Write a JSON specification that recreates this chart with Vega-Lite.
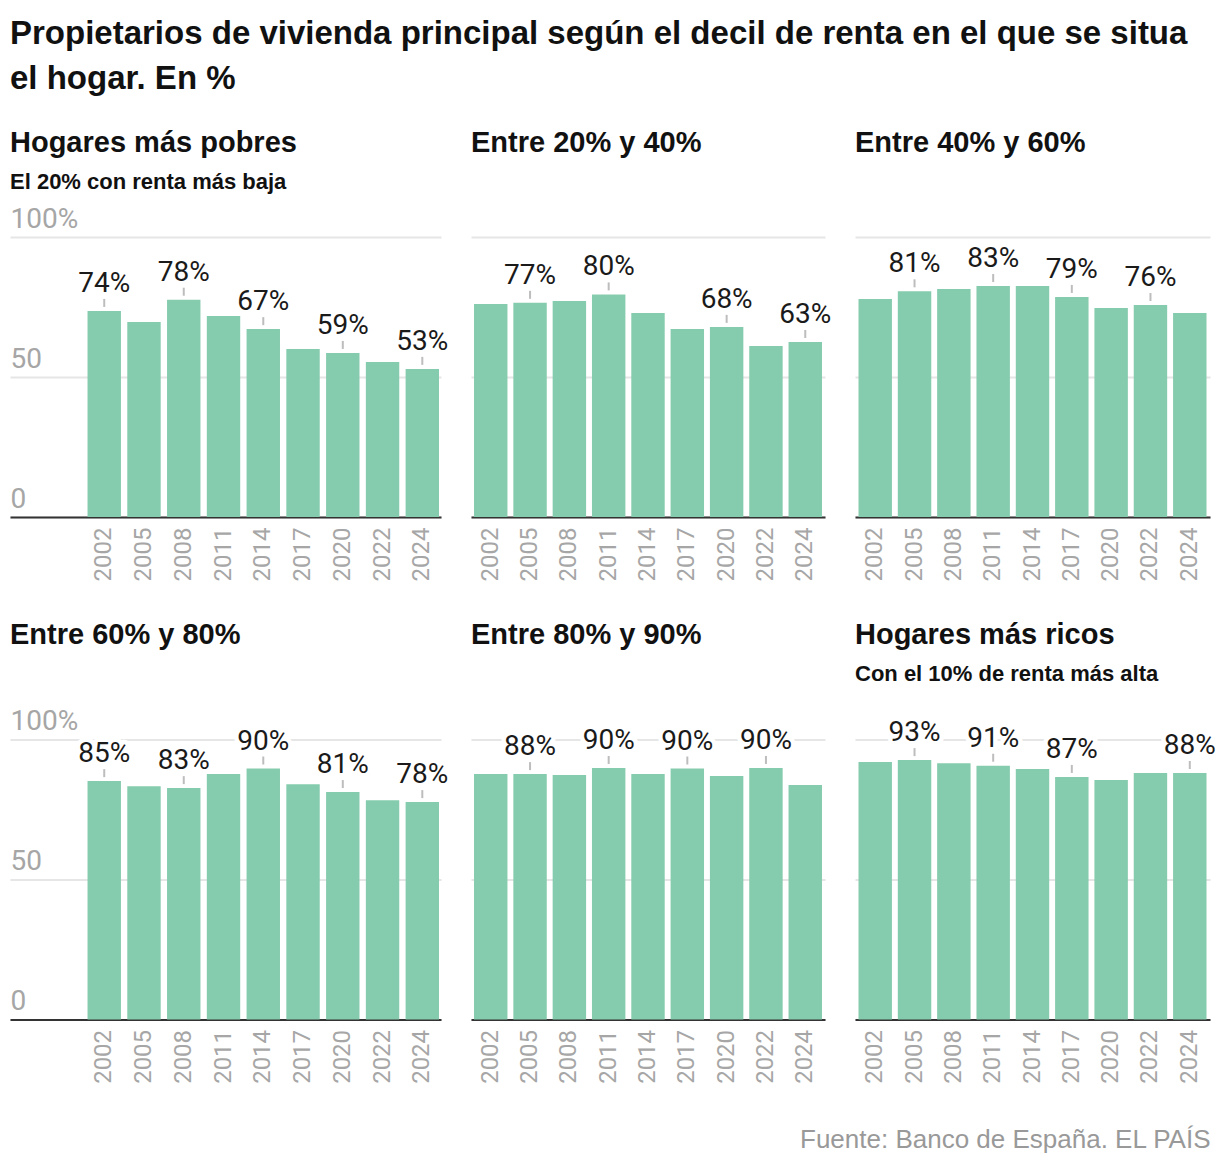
{
  "$schema": "https://vega.github.io/schema/vega-lite/v6.json",
  "background": "white",
  "padding": {"top": 18, "left": 10, "right": 10, "bottom": 10},
  "title": {
    "text": ["Propietarios de vivienda principal según el decil de renta en el que se situa", "el hogar. En %"],
    "fontSize": 33,
    "lineHeight": 45,
    "offset": 33,
    "anchor": "start",
    "frame": "group"
  },
  "data": {
    "values": [
      {"panel": "p1", "anio": "2002", "valor": 73.6, "etiqueta": "74%"},
      {"panel": "p1", "anio": "2005", "valor": 69.6},
      {"panel": "p1", "anio": "2008", "valor": 77.6, "etiqueta": "78%"},
      {"panel": "p1", "anio": "2011", "valor": 71.8},
      {"panel": "p1", "anio": "2014", "valor": 67.1, "etiqueta": "67%"},
      {"panel": "p1", "anio": "2017", "valor": 60.0},
      {"panel": "p1", "anio": "2020", "valor": 58.6, "etiqueta": "59%"},
      {"panel": "p1", "anio": "2022", "valor": 55.4},
      {"panel": "p1", "anio": "2024", "valor": 52.9, "etiqueta": "53%"},
      {"panel": "p2", "anio": "2002", "valor": 76.1},
      {"panel": "p2", "anio": "2005", "valor": 76.5, "etiqueta": "77%"},
      {"panel": "p2", "anio": "2008", "valor": 77.1},
      {"panel": "p2", "anio": "2011", "valor": 79.5, "etiqueta": "80%"},
      {"panel": "p2", "anio": "2014", "valor": 72.9},
      {"panel": "p2", "anio": "2017", "valor": 67.1},
      {"panel": "p2", "anio": "2020", "valor": 67.9, "etiqueta": "68%"},
      {"panel": "p2", "anio": "2022", "valor": 61.1},
      {"panel": "p2", "anio": "2024", "valor": 62.5, "etiqueta": "63%"},
      {"panel": "p3", "anio": "2002", "valor": 77.9},
      {"panel": "p3", "anio": "2005", "valor": 80.6, "etiqueta": "81%"},
      {"panel": "p3", "anio": "2008", "valor": 81.4},
      {"panel": "p3", "anio": "2011", "valor": 82.5, "etiqueta": "83%"},
      {"panel": "p3", "anio": "2014", "valor": 82.5},
      {"panel": "p3", "anio": "2017", "valor": 78.6, "etiqueta": "79%"},
      {"panel": "p3", "anio": "2020", "valor": 74.6},
      {"panel": "p3", "anio": "2022", "valor": 75.7, "etiqueta": "76%"},
      {"panel": "p3", "anio": "2024", "valor": 72.9},
      {"panel": "p4", "anio": "2002", "valor": 85.1, "etiqueta": "85%"},
      {"panel": "p4", "anio": "2005", "valor": 83.3},
      {"panel": "p4", "anio": "2008", "valor": 82.6, "etiqueta": "83%"},
      {"panel": "p4", "anio": "2011", "valor": 87.6},
      {"panel": "p4", "anio": "2014", "valor": 89.6, "etiqueta": "90%"},
      {"panel": "p4", "anio": "2017", "valor": 84.0},
      {"panel": "p4", "anio": "2020", "valor": 81.2, "etiqueta": "81%"},
      {"panel": "p4", "anio": "2022", "valor": 78.3},
      {"panel": "p4", "anio": "2024", "valor": 77.6, "etiqueta": "78%"},
      {"panel": "p5", "anio": "2002", "valor": 87.6},
      {"panel": "p5", "anio": "2005", "valor": 87.6, "etiqueta": "88%"},
      {"panel": "p5", "anio": "2008", "valor": 87.3},
      {"panel": "p5", "anio": "2011", "valor": 89.8, "etiqueta": "90%"},
      {"panel": "p5", "anio": "2014", "valor": 87.6},
      {"panel": "p5", "anio": "2017", "valor": 89.6, "etiqueta": "90%"},
      {"panel": "p5", "anio": "2020", "valor": 86.9},
      {"panel": "p5", "anio": "2022", "valor": 89.8, "etiqueta": "90%"},
      {"panel": "p5", "anio": "2024", "valor": 83.7},
      {"panel": "p6", "anio": "2002", "valor": 91.9},
      {"panel": "p6", "anio": "2005", "valor": 92.6, "etiqueta": "93%"},
      {"panel": "p6", "anio": "2008", "valor": 91.5},
      {"panel": "p6", "anio": "2011", "valor": 90.6, "etiqueta": "91%"},
      {"panel": "p6", "anio": "2014", "valor": 89.4},
      {"panel": "p6", "anio": "2017", "valor": 86.6, "etiqueta": "87%"},
      {"panel": "p6", "anio": "2020", "valor": 85.5},
      {"panel": "p6", "anio": "2022", "valor": 88.0},
      {"panel": "p6", "anio": "2024", "valor": 88.0, "etiqueta": "88%"}
    ]
  },
  "bounds": "flush",
  "columns": 3,
  "spacing": {"row": 222.4, "column": 30},
  "concat": [
    {
      "title": {"text": "Hogares más pobres", "subtitle": "El 20% con renta más baja"},
      "width": 431,
      "height": 280,
      "transform": [{"filter": "datum.panel == 'p1'"}],
      "encoding": {
        "x": {"field": "anio", "type": "nominal", "scale": {"paddingInner": 0.16, "paddingOuter": 1.1, "align": 0.975}},
        "y": {"field": "valor", "type": "quantitative", "scale": {"domain": [0, 100]},
              "axis": {"values": [0, 50, 100], "labelExpr": "datum.value == 100 ? '100%' : datum.label"}}
      },
      "layer": [
        {"mark": {"type": "bar", "color": "#85cbad"}},
        {"transform": [{"filter": "isValid(datum.etiqueta)"}],
         "mark": {"type": "text", "font": "Roboto", "fontSize": 28, "fill": "white", "stroke": "white", "strokeWidth": 9, "strokeJoin": "round", "baseline": "alphabetic", "dy": -19},
         "encoding": {"text": {"field": "etiqueta"}}},
        {"transform": [{"filter": "isValid(datum.etiqueta)"}],
         "mark": {"type": "rule", "color": "#bdbdbd", "strokeWidth": 2, "yOffset": -4, "y2Offset": -12},
         "encoding": {"y2": {"field": "valor"}}},
        {"transform": [{"filter": "isValid(datum.etiqueta)"}],
         "mark": {"type": "text", "font": "Roboto", "fontSize": 28, "color": "#1a1a1a", "baseline": "alphabetic", "dy": -19},
         "encoding": {"text": {"field": "etiqueta"}}}
      ]
    },
    {
      "title": {"text": "Entre 20% y 40%", "subtitle": " "},
      "width": 354,
      "height": 280,
      "transform": [{"filter": "datum.panel == 'p2'"}],
      "encoding": {
        "x": {"field": "anio", "type": "nominal", "scale": {"paddingInner": 0.15, "paddingOuter": 0.077}},
        "y": {"field": "valor", "type": "quantitative", "scale": {"domain": [0, 100]},
              "axis": {"values": [0, 50, 100], "labelExpr": "datum.value == 100 ? '100%' : datum.label", "labelOpacity": 0}}
      },
      "layer": [
        {"mark": {"type": "bar", "color": "#85cbad"}},
        {"transform": [{"filter": "isValid(datum.etiqueta)"}],
         "mark": {"type": "text", "font": "Roboto", "fontSize": 28, "fill": "white", "stroke": "white", "strokeWidth": 9, "strokeJoin": "round", "baseline": "alphabetic", "dy": -19},
         "encoding": {"text": {"field": "etiqueta"}}},
        {"transform": [{"filter": "isValid(datum.etiqueta)"}],
         "mark": {"type": "rule", "color": "#bdbdbd", "strokeWidth": 2, "yOffset": -4, "y2Offset": -12},
         "encoding": {"y2": {"field": "valor"}}},
        {"transform": [{"filter": "isValid(datum.etiqueta)"}],
         "mark": {"type": "text", "font": "Roboto", "fontSize": 28, "color": "#1a1a1a", "baseline": "alphabetic", "dy": -19},
         "encoding": {"text": {"field": "etiqueta"}}}
      ]
    },
    {
      "title": {"text": "Entre 40% y 60%", "subtitle": " "},
      "width": 355,
      "height": 280,
      "transform": [{"filter": "datum.panel == 'p3'"}],
      "encoding": {
        "x": {"field": "anio", "type": "nominal", "scale": {"paddingInner": 0.15, "paddingOuter": 0.089}},
        "y": {"field": "valor", "type": "quantitative", "scale": {"domain": [0, 100]},
              "axis": {"values": [0, 50, 100], "labelExpr": "datum.value == 100 ? '100%' : datum.label", "labelOpacity": 0}}
      },
      "layer": [
        {"mark": {"type": "bar", "color": "#85cbad"}},
        {"transform": [{"filter": "isValid(datum.etiqueta)"}],
         "mark": {"type": "text", "font": "Roboto", "fontSize": 28, "fill": "white", "stroke": "white", "strokeWidth": 9, "strokeJoin": "round", "baseline": "alphabetic", "dy": -19},
         "encoding": {"text": {"field": "etiqueta"}}},
        {"transform": [{"filter": "isValid(datum.etiqueta)"}],
         "mark": {"type": "rule", "color": "#bdbdbd", "strokeWidth": 2, "yOffset": -4, "y2Offset": -12},
         "encoding": {"y2": {"field": "valor"}}},
        {"transform": [{"filter": "isValid(datum.etiqueta)"}],
         "mark": {"type": "text", "font": "Roboto", "fontSize": 28, "color": "#1a1a1a", "baseline": "alphabetic", "dy": -19},
         "encoding": {"text": {"field": "etiqueta"}}}
      ]
    },
    {
      "title": {"text": "Entre 60% y 80%", "subtitle": " ", "offset": 22},
      "width": 431,
      "height": 280,
      "transform": [{"filter": "datum.panel == 'p4'"}],
      "encoding": {
        "x": {"field": "anio", "type": "nominal", "scale": {"paddingInner": 0.16, "paddingOuter": 1.1, "align": 0.975}},
        "y": {"field": "valor", "type": "quantitative", "scale": {"domain": [0, 100]},
              "axis": {"values": [0, 50, 100], "labelExpr": "datum.value == 100 ? '100%' : datum.label"}}
      },
      "layer": [
        {"mark": {"type": "bar", "color": "#85cbad"}},
        {"transform": [{"filter": "isValid(datum.etiqueta)"}],
         "mark": {"type": "text", "font": "Roboto", "fontSize": 28, "fill": "white", "stroke": "white", "strokeWidth": 9, "strokeJoin": "round", "baseline": "alphabetic", "dy": -19},
         "encoding": {"text": {"field": "etiqueta"}}},
        {"transform": [{"filter": "isValid(datum.etiqueta)"}],
         "mark": {"type": "rule", "color": "#bdbdbd", "strokeWidth": 2, "yOffset": -4, "y2Offset": -12},
         "encoding": {"y2": {"field": "valor"}}},
        {"transform": [{"filter": "isValid(datum.etiqueta)"}],
         "mark": {"type": "text", "font": "Roboto", "fontSize": 28, "color": "#1a1a1a", "baseline": "alphabetic", "dy": -19},
         "encoding": {"text": {"field": "etiqueta"}}}
      ]
    },
    {
      "title": {"text": "Entre 80% y 90%", "subtitle": " ", "offset": 22},
      "width": 354,
      "height": 280,
      "transform": [{"filter": "datum.panel == 'p5'"}],
      "encoding": {
        "x": {"field": "anio", "type": "nominal", "scale": {"paddingInner": 0.15, "paddingOuter": 0.077}},
        "y": {"field": "valor", "type": "quantitative", "scale": {"domain": [0, 100]},
              "axis": {"values": [0, 50, 100], "labelExpr": "datum.value == 100 ? '100%' : datum.label", "labelOpacity": 0}}
      },
      "layer": [
        {"mark": {"type": "bar", "color": "#85cbad"}},
        {"transform": [{"filter": "isValid(datum.etiqueta)"}],
         "mark": {"type": "text", "font": "Roboto", "fontSize": 28, "fill": "white", "stroke": "white", "strokeWidth": 9, "strokeJoin": "round", "baseline": "alphabetic", "dy": -19},
         "encoding": {"text": {"field": "etiqueta"}}},
        {"transform": [{"filter": "isValid(datum.etiqueta)"}],
         "mark": {"type": "rule", "color": "#bdbdbd", "strokeWidth": 2, "yOffset": -4, "y2Offset": -12},
         "encoding": {"y2": {"field": "valor"}}},
        {"transform": [{"filter": "isValid(datum.etiqueta)"}],
         "mark": {"type": "text", "font": "Roboto", "fontSize": 28, "color": "#1a1a1a", "baseline": "alphabetic", "dy": -19},
         "encoding": {"text": {"field": "etiqueta"}}}
      ]
    },
    {
      "title": {"text": "Hogares más ricos", "subtitle": "Con el 10% de renta más alta", "offset": 22},
      "width": 355,
      "height": 280,
      "transform": [{"filter": "datum.panel == 'p6'"}],
      "encoding": {
        "x": {"field": "anio", "type": "nominal", "scale": {"paddingInner": 0.15, "paddingOuter": 0.089},
              "axis": {
                "title": "Fuente: Banco de España. EL PAÍS",
                "titleAnchor": "end",
                "titleAlign": "right",
                "titleFont": "Liberation Sans",
                "titleFontSize": 26,
                "titleFontWeight": "normal",
                "titleColor": "#999999",
                "titlePadding": 43
              }},
        "y": {"field": "valor", "type": "quantitative", "scale": {"domain": [0, 100]},
              "axis": {"values": [0, 50, 100], "labelExpr": "datum.value == 100 ? '100%' : datum.label", "labelOpacity": 0}}
      },
      "layer": [
        {"mark": {"type": "bar", "color": "#85cbad"}},
        {"transform": [{"filter": "isValid(datum.etiqueta)"}],
         "mark": {"type": "text", "font": "Roboto", "fontSize": 28, "fill": "white", "stroke": "white", "strokeWidth": 9, "strokeJoin": "round", "baseline": "alphabetic", "dy": -19},
         "encoding": {"text": {"field": "etiqueta"}}},
        {"transform": [{"filter": "isValid(datum.etiqueta)"}],
         "mark": {"type": "rule", "color": "#bdbdbd", "strokeWidth": 2, "yOffset": -4, "y2Offset": -12},
         "encoding": {"y2": {"field": "valor"}}},
        {"transform": [{"filter": "isValid(datum.etiqueta)"}],
         "mark": {"type": "text", "font": "Roboto", "fontSize": 28, "color": "#1a1a1a", "baseline": "alphabetic", "dy": -19},
         "encoding": {"text": {"field": "etiqueta"}}}
      ]
    }
  ],
  "config": {
    "view": {"stroke": null},
    "font": "Liberation Sans",
    "title": {
      "anchor": "start",
      "frame": "group",
      "font": "Liberation Sans",
      "fontSize": 29,
      "fontWeight": "bold",
      "color": "#111111",
      "subtitleFont": "Liberation Sans",
      "subtitleFontSize": 22,
      "subtitleFontWeight": "bold",
      "subtitleColor": "#111111",
      "subtitlePadding": 14,
      "offset": 12
    },
    "axisX": {
      "title": null,
      "labelAngle": -90,
      "labelFont": "Roboto",
      "labelFontSize": 24,
      "labelColor": "#a6a6a6",
      "labelPadding": 10,
      "ticks": false,
      "grid": false,
      "domainColor": "#333333",
      "domainWidth": 2
    },
    "axisY": {
      "title": null,
      "domain": false,
      "ticks": false,
      "grid": true,
      "gridColor": "#e6e6e6",
      "gridWidth": 2,
      "labelAlign": "left",
      "labelBaseline": "alphabetic",
      "labelPadding": 0,
      "labelOffset": -10,
      "labelFlush": false,
      "labelFont": "Roboto",
      "labelFontSize": 28,
      "labelColor": "#a6a6a6"
    }
  }
}
